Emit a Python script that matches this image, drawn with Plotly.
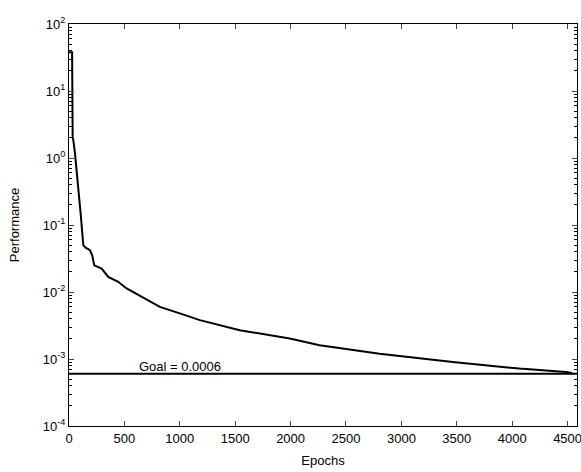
import math
import plotly.graph_objects as go

epochs = [0, 28, 33, 39, 54, 84, 105, 129, 150, 189, 210, 228, 295, 354, 444, 520, 685,
          820, 1000, 1181, 1541, 1992, 2262, 2803, 3464, 4065, 4486, 4540]
performance = [38, 38, 2.0, 1.85, 1.17, 0.37, 0.149, 0.05, 0.046, 0.042, 0.035, 0.025,
               0.0224, 0.0168, 0.0142, 0.0113, 0.008, 0.006, 0.0048, 0.0038, 0.00269,
               0.00202, 0.0016, 0.0012, 0.0009, 0.00072, 0.00064, 0.00062]
goal = 0.0006
x_max = 4585
x_ticks = [0, 500, 1000, 1500, 2000, 2500, 3000, 3500, 4000, 4500]
y_ticks = [1e-4, 1e-3, 1e-2, 1e-1, 1e0, 1e1, 1e2]
y_labels = ["10<sup>-4</sup>", "10<sup>-3</sup>", "10<sup>-2</sup>", "10<sup>-1</sup>",
            "10<sup>0</sup>", "10<sup>1</sup>", "10<sup>2</sup>"]
minor_ticks = [m * 10 ** e for e in range(-4, 2) for m in range(2, 10)]

font = dict(family="Liberation Sans, Arial", size=13, color="black")

fig = go.Figure()
fig.add_trace(go.Scatter(x=[0, x_max], y=[goal, goal], mode="lines",
                         line=dict(color="black", width=2), showlegend=False))
fig.add_trace(go.Scatter(x=epochs, y=performance, mode="lines",
                         line=dict(color="black", width=2), showlegend=False))
fig.add_annotation(x=1000, y=math.log10(goal), yref="y", xref="x", text="Goal = 0.0006",
                   showarrow=False, yanchor="bottom", yshift=-2, font=font)

fig.update_layout(
    width=581, height=472,
    margin=dict(l=69, r=4, t=24, b=46),
    paper_bgcolor="white", plot_bgcolor="white",
    font=font,
    xaxis=dict(range=[0, x_max], tickvals=x_ticks, ticks="inside", ticklen=5,
               showline=True, linecolor="black", linewidth=1, mirror="allticks",
               showgrid=False, zeroline=False, automargin=False,
               ticklabeloverflow="allow",
               title=dict(text="Epochs", standoff=11, font=font), tickfont=font),
    yaxis=dict(type="log", range=[-4, 2], tickvals=y_ticks, ticktext=y_labels,
               ticks="inside", ticklen=5, showline=True, linecolor="black",
               linewidth=1, mirror="allticks", showgrid=False, zeroline=False,
               automargin=False, ticklabeloverflow="allow",
               minor=dict(tickvals=minor_ticks, ticks="inside", ticklen=3,
                          tickcolor="black", showgrid=False),
               title=dict(text="Performance", standoff=20, font=font), tickfont=font),
)
fig.write_html("out.html", config={"displayModeBar": False},
               post_script="document.body.style.margin='0';"
                           "document.body.style.overflow='hidden';")
